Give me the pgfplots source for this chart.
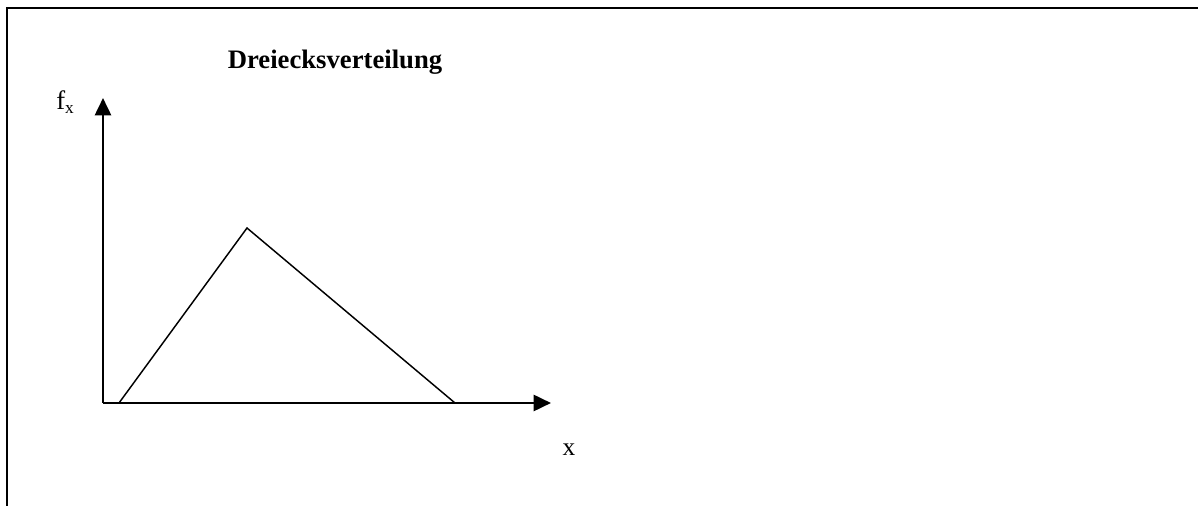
\documentclass[border=0pt]{standalone}
\usepackage{fontspec}
\setmainfont{Liberation Serif}
\usepackage{pgfplots}
\pgfplotsset{compat=1.18}
\usetikzlibrary{arrows.meta}
\begin{document}
\begin{tikzpicture}
\useasboundingbox (0,0) rectangle (898.5pt,379.5pt);
\draw[line width=1.6pt] (5.25pt,-2pt) -- (5.25pt,373.3pt) -- (900pt,373.3pt);
\begin{axis}[
  at={(77.25pt,77.25pt)}, anchor=south west,
  scale only axis, x=0.75pt, y=0.75pt,
  xmin=0, xmax=448, ymin=0, ymax=305,
  axis lines=left,
  axis line style={line width=2pt, -{Triangle[length=13pt,width=12pt]}},
  xtick=\empty, ytick=\empty,
  clip=false,
]
\addplot[black, line width=1.1pt, mark=none] coordinates {(16,0) (144,175) (352,0)};
\end{axis}
\node[anchor=base, inner sep=0pt, font=\fontsize{20}{24}\selectfont\bfseries] at (251.25pt,328pt) {Dreiecksverteilung};
\node[anchor=base west, inner sep=0pt, font=\fontsize{20}{24}\selectfont] at (42pt,297pt) {f\raisebox{-2.5pt}{\fontsize{13}{13}\selectfont x}};
\node[anchor=base, inner sep=0pt, font=\fontsize{19}{22}\selectfont] at (426.75pt,37.5pt) {x};
\end{tikzpicture}
\end{document}
